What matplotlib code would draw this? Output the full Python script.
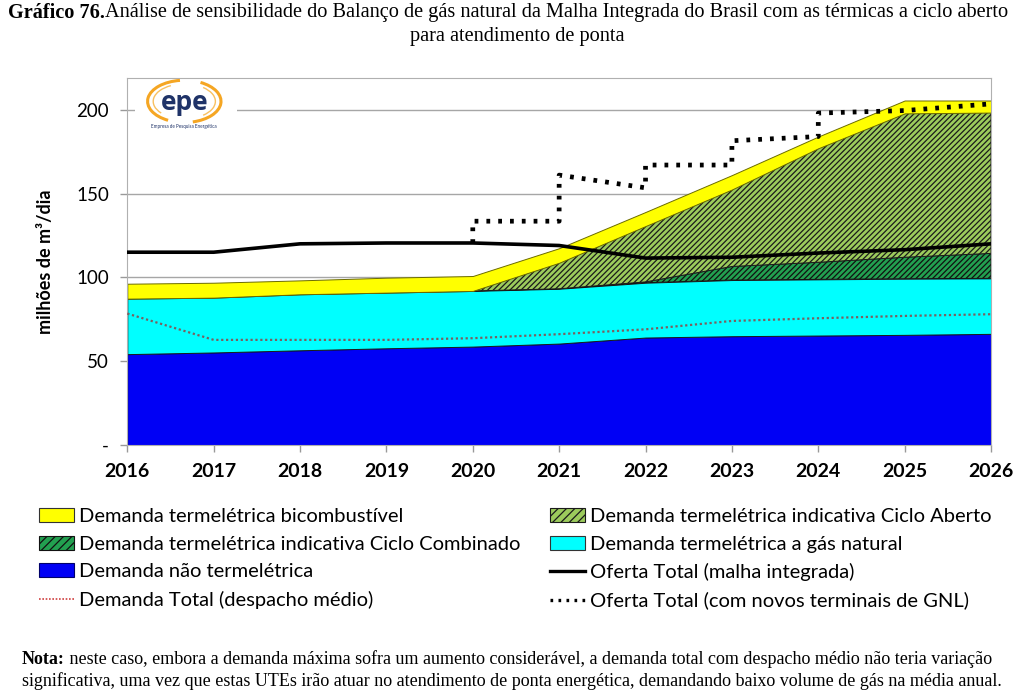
import numpy as np
import matplotlib.pyplot as plt
from matplotlib.patches import Patch, Arc, Rectangle
from matplotlib.lines import Line2D

plt.rcParams['font.family'] = ['Lato', 'DejaVu Sans']
plt.rcParams['hatch.linewidth'] = 0.9

# dados (milhões de m3/dia)
anos = np.arange(2016, 2027)
nao_termeletrica = [54.2, 55.2, 56.5, 57.7, 58.7, 60.5, 64.1, 64.9, 65.3, 65.7, 66.3]
termo_gas_natural = [33.1, 32.7, 33.4, 33.2, 33.2, 32.7, 32.7, 33.5, 33.5, 33.5, 33.1]
ciclo_combinado = [0, 0, 0, 0, 0, 0, 0.5, 8.1, 10.2, 12.8, 14.9]
ciclo_aberto = [0, 0, 0, 0, 0, 15.5, 33.3, 45.9, 68.0, 85.8, 84.0]
bicombustivel = [8.9, 8.9, 8.3, 8.9, 8.9, 8.7, 8.4, 8.6, 7.0, 7.7, 7.2]

oferta_malha = [115, 115, 120, 120.5, 120.5, 119, 111.5, 112, 114.5, 116.5, 120]
demanda_media = [78.4, 62.7, 62.7, 62.7, 63.7, 66.1, 69, 74, 75.6, 77, 78]

# oferta com novos terminais de GNL (degraus)
gnl_x = [2020, 2020, 2021, 2021, 2022, 2022, 2023, 2023, 2024, 2024, 2025, 2026]
gnl_y = [120.5, 133.5, 133.5, 161, 153.4, 167, 167, 181.5, 184, 198, 199.5, 203.5]

y_ticks = [0, 50, 100, 150, 200]
y_ticklabels = ['-', '50', '100', '150', '200']

lab_bicomb = 'Demanda termelétrica bicombustível'
lab_aberto = 'Demanda termelétrica indicativa Ciclo Aberto'
lab_comb = 'Demanda termelétrica indicativa Ciclo Combinado'
lab_gas = 'Demanda termelétrica a gás natural'
lab_nao = 'Demanda não termelétrica'
lab_malha = 'Oferta Total (malha integrada)'
lab_media = 'Demanda Total (despacho médio)'
lab_gnl = 'Oferta Total (com novos terminais de GNL)'

fig = plt.figure(figsize=(10.24, 6.94), dpi=100)
ax = fig.add_axes([0.1243, 0.3588, 0.8435, 0.529])

camadas = [
    (nao_termeletrica, '#0000F5', '#00006a', None),
    (termo_gas_natural, '#00FFFF', '#1a1a1a', None),
    (ciclo_combinado, '#22A050', '#111111', '//////'),
    (ciclo_aberto, '#9CCB5C', '#1a1a1a', '//////'),
    (bicombustivel, '#FFFF00', '#6b6b00', None),
]
base = np.zeros(len(anos))
for vals, cor, borda, hachura in camadas:
    topo = base + np.array(vals)
    ax.fill_between(anos, base, topo, facecolor=cor, edgecolor=borda,
                    hatch=hachura, linewidth=0.7, zorder=2)
    base = topo

ax.plot(anos, demanda_media, color='#7a6060', lw=1.6, ls=(0, (1, 1.2)), zorder=3)
ax.plot(anos, oferta_malha, color='black', lw=2.6, zorder=4)
ax.plot(gnl_x, gnl_y, color='black', lw=3.4, ls=(0, (0.8, 1.7)), zorder=4)

ax.set_xlim(2016, 2026)
ax.set_ylim(0, 219)
ax.set_xticks(anos)
ax.set_xticklabels([str(a) for a in anos], fontsize=14, fontweight='bold')
ax.set_yticks(y_ticks)
ax.set_yticklabels(y_ticklabels, fontsize=13.5)
ax.tick_params(axis='both', color='#999999', length=5, width=1)
ax.tick_params(axis='x', pad=8)
ax.tick_params(axis='y', pad=8)
ax.set_axisbelow(True)
ax.yaxis.grid(True, color='#a6a6a6', lw=1)
for s in ax.spines.values():
    s.set_color('#b0b0b0')
ax.set_ylabel('milhões de m³/dia', fontsize=13, fontweight='bold', labelpad=16)

# logo epe
ax.add_patch(Rectangle((0.009, 0.84), 0.118, 0.15, transform=ax.transAxes,
                       facecolor='white', edgecolor='none', zorder=1.5))
ax.text(0.066, 0.934, 'epe', transform=ax.transAxes, ha='center', va='center',
        fontsize=19, fontweight='bold', color='#1f3368', family='Open Sans', zorder=5)
ax.add_patch(Arc((0.066, 0.936), 0.085, 0.115, theta1=95, theta2=250,
                 transform=ax.transAxes, color='#f5a623', lw=2.2, zorder=5))
ax.add_patch(Arc((0.066, 0.936), 0.085, 0.115, theta1=-80, theta2=70,
                 transform=ax.transAxes, color='#f5a623', lw=2.2, zorder=5))
ax.add_patch(Arc((0.066, 0.936), 0.072, 0.095, theta1=110, theta2=230,
                 transform=ax.transAxes, color='#f8c060', lw=1, zorder=5))
ax.add_patch(Arc((0.066, 0.936), 0.072, 0.095, theta1=-60, theta2=60,
                 transform=ax.transAxes, color='#f8c060', lw=1, zorder=5))
ax.text(0.066, 0.868, 'Empresa de Pesquisa Energética', transform=ax.transAxes,
        ha='center', va='center', fontsize=3.3, color='#1f3368', zorder=5)

# legenda (colunas preenchidas por coluna)
h_bicomb = Patch(facecolor='#FFFF00', edgecolor='#333333', lw=0.8, label=lab_bicomb)
h_comb = Patch(facecolor='#22A050', edgecolor='#111111', hatch='////', lw=0.8, label=lab_comb)
h_nao = Patch(facecolor='#0000F5', edgecolor='#00006a', lw=0.8, label=lab_nao)
h_media = Line2D([], [], color='#d04040', lw=1.2, ls=(0, (1, 1)), label=lab_media)
h_aberto = Patch(facecolor='#9CCB5C', edgecolor='#1a1a1a', hatch='////', lw=0.8, label=lab_aberto)
h_gas = Patch(facecolor='#00FFFF', edgecolor='#333333', lw=0.8, label=lab_gas)
h_malha = Line2D([], [], color='black', lw=2.4, label=lab_malha)
h_gnl = Line2D([], [], color='black', lw=2.4, ls=(0, (0.8, 1.6)), label=lab_gnl)
fig.legend(handles=[h_bicomb, h_comb, h_nao, h_media, h_aberto, h_gas, h_malha, h_gnl],
           ncol=2, loc='upper left', bbox_to_anchor=(0.038, 0.268), frameon=False,
           fontsize=14.5, handlelength=1.75, handleheight=0.7, handletextpad=0.25,
           labelspacing=0.52, columnspacing=1.45, borderpad=0, borderaxespad=0)

# título
serif = 'Liberation Serif'
t1 = fig.text(8 / 1024, 1 - 13 / 694, 'Gráfico 76.', fontsize=14.6, fontweight='bold',
              family=serif, va='center', ha='left')
ax.annotate('Análise de sensibilidade do Balanço de gás natural da Malha Integrada do Brasil '
            'com as térmicas a ciclo aberto', xy=(1, 0.5), xycoords=t1, va='center',
            ha='left', fontsize=14.6, family=serif, annotation_clip=False)
fig.text(0.505, 1 - 37 / 694, 'para atendimento de ponta', fontsize=14.6, family=serif,
         ha='center', va='center')

# nota
n1 = fig.text(22 / 1024, 1 - 659 / 694, 'Nota:', fontsize=13, fontweight='bold',
              family=serif, va='center', ha='left')
ax.annotate(' neste caso, embora a demanda máxima sofra um aumento considerável, a demanda total '
            'com despacho médio não teria variação', xy=(1, 0.5), xycoords=n1, va='center',
            ha='left', fontsize=13, family=serif, annotation_clip=False)
fig.text(0.5, 1 - 681 / 694, 'significativa, uma vez que estas UTEs irão atuar no atendimento de '
         'ponta energética, demandando baixo volume de gás na média anual.', fontsize=13,
         family=serif, ha='center', va='center')

fig.savefig('out.png', dpi=100)
